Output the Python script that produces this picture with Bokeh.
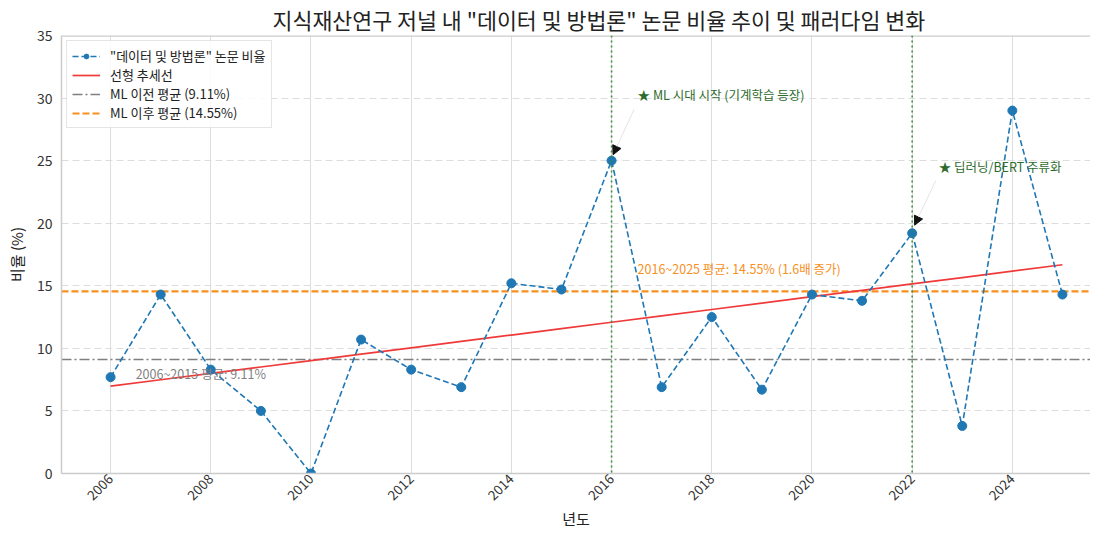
import numpy as np
from bokeh.plotting import figure
from bokeh.models import (ColumnDataSource, Span, Label, Arrow, NormalHead, Legend,
                          LegendItem, Range1d, FixedTicker)
from bokeh.embed import file_html
from bokeh.resources import INLINE

# ---------------- data ----------------
years = list(range(2006, 2026))
ratios = [7.7, 14.3, 8.3, 5.0, 0.0, 10.7, 8.3, 6.9, 15.2, 14.7,
          25.0, 6.9, 12.5, 6.7, 14.3, 13.8, 19.2, 3.8, 29.0, 14.3]
pre_ml_mean = 9.11
post_ml_mean = 14.55
milestone_years = [2016, 2022]
milestone_labels = ["★ ML 시대 시작 (기계학습 등장)", "★ 딥러닝/BERT 주류화"]
x_ticks = list(range(2006, 2025, 2))
y_ticks = list(range(0, 36, 5))

title_text = '지식재산연구 저널 내 "데이터 및 방법론" 논문 비율 추이 및 패러다임 변화'
series_label = '"데이터 및 방법론" 논문 비율'
trend_label = "선형 추세선"
pre_label = f"ML 이전 평균 ({pre_ml_mean:.2f}%)"
post_label = f"ML 이후 평균 ({post_ml_mean:.2f}%)"
pre_note = f"2006~2015 평균: {pre_ml_mean:.2f}%"
post_note = f"2016~2025 평균: {post_ml_mean:.2f}% ({post_ml_mean / pre_ml_mean:.1f}배 증가)"
x_label = "년도"
y_label = "비율 (%)"

FONT = "Noto Sans CJK KR"
BLUE = "#1f77b4"
RED = "#f03a3a"
GRAY = "#7f7f7f"
ORANGE = "#f7901e"
GREEN = "#2f8a2f"
TEXT_GREEN = "#2e6b2e"
FRAME = "#cccccc"

X_LO, X_HI = 2005.02, 2025.56
Y_LO, Y_HI = 0, 35

# trend
coef = np.polyfit(years, ratios, 1)
trend = list(np.polyval(coef, years))

p = figure(width=1090, height=531, output_backend="svg", toolbar_location=None,
           x_range=Range1d(X_LO, X_HI), y_range=Range1d(Y_LO, Y_HI),
           min_border_left=61, min_border_right=0, min_border_top=0, min_border_bottom=0)

p.title.text = title_text
p.title.align = "left"
p.title.offset = 211
p.title.text_font = FONT
p.title.text_font_size = "21.7px"
p.title.text_font_style = "normal"
p.title.text_color = "#222222"
p.title.standoff = 2

p.outline_line_color = None
p.background_fill_color = "white"

# grids
p.xgrid.ticker = FixedTicker(ticks=x_ticks)
p.xgrid.grid_line_color = "#dddddd"
p.xgrid.grid_line_width = 1
p.ygrid.ticker = FixedTicker(ticks=y_ticks)
p.ygrid.grid_line_color = "#dddddd"
p.ygrid.grid_line_dash = "7 4"
p.ygrid.grid_line_width = 1

# axes
p.xaxis.ticker = FixedTicker(ticks=x_ticks)
p.yaxis.ticker = FixedTicker(ticks=y_ticks)
for ax in (p.xaxis[0], p.yaxis[0]):
    ax.axis_line_color = FRAME
    ax.axis_line_width = 1.5
    ax.major_tick_line_color = None
    ax.minor_tick_line_color = None
    ax.major_tick_out = 0
    ax.major_tick_in = 0
    ax.major_label_text_font = FONT
    ax.major_label_text_font_size = "14px"
    ax.major_label_text_color = "#333333"
    ax.axis_label_text_font = FONT
    ax.axis_label_text_font_size = "15px"
    ax.axis_label_text_font_style = "normal"
    ax.axis_label_text_color = "#222222"
p.xaxis.major_label_orientation = np.pi / 4
p.xaxis.major_label_standoff = 3
p.xaxis.axis_label = x_label
p.xaxis.axis_label_standoff = 0
p.xaxis.major_label_text_font_size = "13.5px"
p.yaxis.axis_label = y_label
p.yaxis.major_label_standoff = 9
p.yaxis.axis_label_standoff = 7

# top frame line
p.add_layout(Span(location=Y_HI, dimension="width", line_color=FRAME, line_width=2.5))

# milestone verticals
for yr in milestone_years:
    p.add_layout(Span(location=yr, dimension="height", line_color=GREEN,
                      line_dash="2 3", line_width=1.6, line_alpha=0.9))

# mean lines across full width
mean_src_pre = ColumnDataSource(dict(x=[X_LO, X_HI], y=[pre_ml_mean, pre_ml_mean]))
mean_src_post = ColumnDataSource(dict(x=[X_LO, X_HI], y=[post_ml_mean, post_ml_mean]))
r_pre = p.line("x", "y", source=mean_src_pre, line_color=GRAY, line_dash="10 3 2 3",
               line_width=1.5)
r_post = p.line("x", "y", source=mean_src_post, line_color=ORANGE, line_dash="7 3",
                line_width=2.2)

src = ColumnDataSource(dict(x=years, y=ratios, t=trend))
r_trend = p.line("x", "t", source=src, line_color=RED, line_width=1.7)
r_line = p.line("x", "y", source=src, line_color=BLUE, line_width=1.6, line_dash="6 3")
r_pts = p.scatter("x", "y", source=src, size=9, fill_color=BLUE, line_color=BLUE)

legend = Legend(items=[
    LegendItem(label=series_label, renderers=[r_line, r_pts]),
    LegendItem(label=trend_label, renderers=[r_trend]),
    LegendItem(label=pre_label, renderers=[r_pre]),
    LegendItem(label=post_label, renderers=[r_post]),
], location="top_left")
legend.label_text_font = FONT
legend.label_text_font_size = "13px"
legend.label_text_color = "#222222"
legend.glyph_width = 28
legend.glyph_height = 12
legend.label_height = 12
legend.label_standoff = 10
legend.spacing = 0
legend.padding = 5
legend.margin = 5
legend.border_line_color = "#cccccc"
legend.border_line_width = 1
legend.background_fill_alpha = 0.85
p.add_layout(legend)

# annotations
idx0 = years.index(milestone_years[0])
idx1 = years.index(milestone_years[1])
p.add_layout(Label(x=milestone_years[0] + 0.52, y=30.3, text=milestone_labels[0],
                   text_font=FONT, text_font_size="12.5px", text_color=TEXT_GREEN,
                   text_baseline="middle"))
p.add_layout(Label(x=milestone_years[1] + 0.53, y=24.5, text=milestone_labels[1],
                   text_font=FONT, text_font_size="12.5px", text_color=TEXT_GREEN,
                   text_baseline="middle"))
p.add_layout(Arrow(x_start=milestone_years[0] + 0.45, y_start=29.1,
                   x_end=milestone_years[0] + 0.03, y_end=ratios[idx0] + 0.47,
                   line_color="#dddddd", line_width=0.8,
                   end=NormalHead(size=9, fill_color="#111111", line_color="#111111")))
p.add_layout(Arrow(x_start=milestone_years[1] + 0.47, y_start=23.4,
                   x_end=milestone_years[1] + 0.05, y_end=ratios[idx1] + 0.64,
                   line_color="#dddddd", line_width=0.8,
                   end=NormalHead(size=9, fill_color="#111111", line_color="#111111")))

p.add_layout(Label(x=2006.5, y=8.0, text=pre_note, text_font=FONT,
                   text_font_size="12.5px", text_color=GRAY, text_baseline="middle"))
p.add_layout(Label(x=2016.52, y=16.4, text=post_note, text_font=FONT,
                   text_font_size="12.5px", text_color=ORANGE, text_baseline="middle"))

open("out.html", "w").write(file_html(p, INLINE))
